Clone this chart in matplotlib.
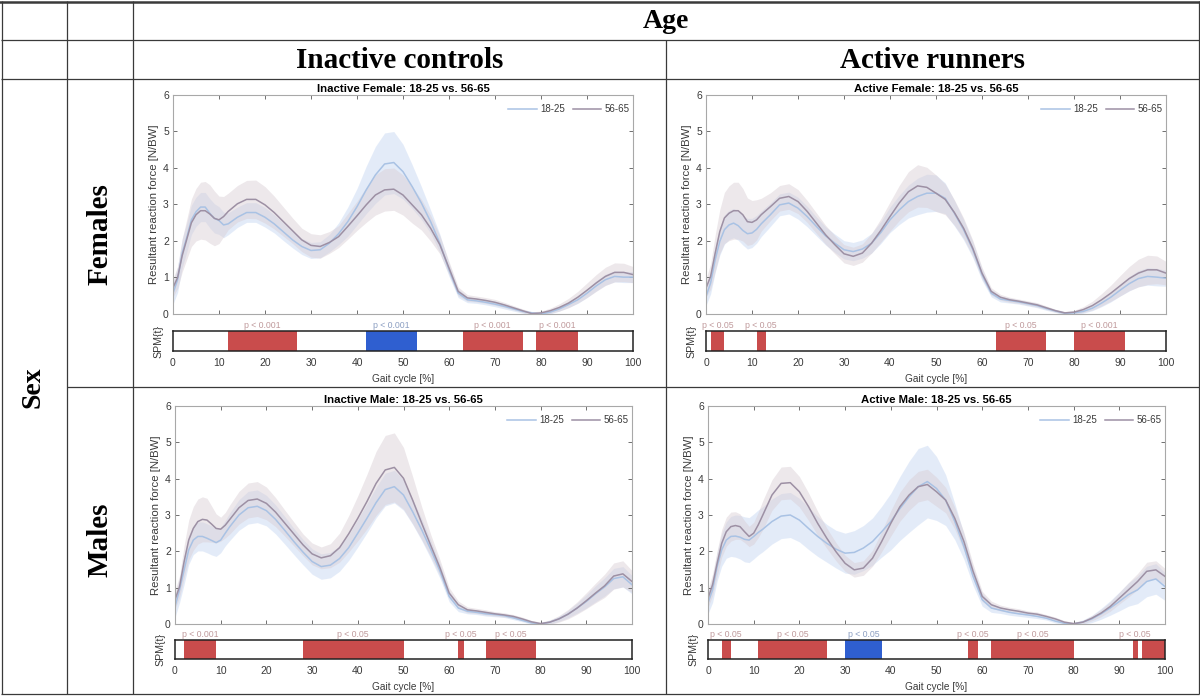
import matplotlib
matplotlib.use("Agg")
import matplotlib.pyplot as plt
import numpy as np

# gait cycle sample points [%]
gait_pct = list(range(0, 13)) + list(range(14, 101, 2))

# Inactive female
inf_young_mean = [0.57, 0.94, 1.67, 2.1, 2.58, 2.8, 2.93, 2.93, 2.76, 2.62, 2.56, 2.44, 2.47, 2.65, 2.78, 2.78, 2.65, 2.47, 2.25, 2.03, 1.85, 1.74, 1.76, 1.94, 2.2, 2.53, 2.94, 3.4, 3.81, 4.11, 4.15, 3.9, 3.49, 3.04, 2.53, 1.94, 1.21, 0.57, 0.39, 0.36, 0.32, 0.27, 0.21, 0.14, 0.07, 0.03, 0.0, 0.05, 0.14, 0.26, 0.39, 0.57, 0.77, 0.94, 1.03, 1.01, 1.01]
inf_young_sd = [0.3, 0.35, 0.4, 0.4, 0.4, 0.4, 0.4, 0.4, 0.4, 0.4, 0.38, 0.35, 0.3, 0.28, 0.27, 0.27, 0.27, 0.25, 0.24, 0.22, 0.22, 0.22, 0.22, 0.24, 0.3, 0.4, 0.5, 0.65, 0.78, 0.85, 0.85, 0.75, 0.6, 0.45, 0.32, 0.25, 0.18, 0.12, 0.08, 0.07, 0.07, 0.07, 0.07, 0.06, 0.05, 0.04, 0.04, 0.05, 0.06, 0.08, 0.1, 0.12, 0.14, 0.15, 0.15, 0.15, 0.15]
inf_old_mean = [0.72, 1.0, 1.6, 2.05, 2.5, 2.72, 2.83, 2.83, 2.74, 2.62, 2.58, 2.67, 2.81, 3.02, 3.14, 3.14, 2.99, 2.78, 2.53, 2.28, 2.03, 1.88, 1.85, 1.96, 2.12, 2.4, 2.69, 2.99, 3.26, 3.4, 3.42, 3.26, 2.99, 2.72, 2.35, 1.9, 1.26, 0.62, 0.44, 0.41, 0.37, 0.32, 0.25, 0.17, 0.09, 0.01, 0.03, 0.09, 0.18, 0.3, 0.46, 0.65, 0.85, 1.03, 1.14, 1.14, 1.08]
inf_old_sd = [0.25, 0.3, 0.45, 0.55, 0.65, 0.72, 0.78, 0.8, 0.8, 0.75, 0.65, 0.55, 0.5, 0.5, 0.52, 0.53, 0.5, 0.45, 0.4, 0.35, 0.32, 0.32, 0.32, 0.3, 0.3, 0.35, 0.4, 0.48, 0.55, 0.58, 0.58, 0.55, 0.5, 0.42, 0.35, 0.25, 0.18, 0.12, 0.09, 0.08, 0.08, 0.08, 0.07, 0.06, 0.05, 0.05, 0.05, 0.07, 0.1, 0.13, 0.16, 0.2, 0.23, 0.25, 0.26, 0.25, 0.22]

# Active female
acf_young_mean = [0.48, 0.85, 1.49, 1.99, 2.31, 2.44, 2.49, 2.42, 2.29, 2.2, 2.22, 2.32, 2.47, 2.72, 2.99, 3.04, 2.9, 2.67, 2.4, 2.14, 1.94, 1.76, 1.71, 1.78, 1.94, 2.23, 2.58, 2.85, 3.08, 3.22, 3.31, 3.31, 3.17, 2.76, 2.31, 1.76, 1.08, 0.57, 0.41, 0.37, 0.33, 0.28, 0.23, 0.15, 0.08, 0.02, 0.03, 0.07, 0.16, 0.3, 0.46, 0.65, 0.83, 0.97, 1.03, 1.01, 0.98]
acf_young_sd = [0.25, 0.3, 0.35, 0.38, 0.4, 0.4, 0.4, 0.4, 0.4, 0.42, 0.4, 0.38, 0.35, 0.32, 0.3, 0.3, 0.3, 0.28, 0.26, 0.25, 0.25, 0.25, 0.25, 0.25, 0.27, 0.3, 0.35, 0.4, 0.45, 0.5, 0.52, 0.5, 0.42, 0.35, 0.28, 0.22, 0.16, 0.1, 0.08, 0.07, 0.06, 0.06, 0.06, 0.05, 0.04, 0.04, 0.04, 0.05, 0.07, 0.1, 0.13, 0.16, 0.2, 0.22, 0.24, 0.24, 0.22]
acf_old_mean = [0.71, 1.03, 1.67, 2.26, 2.63, 2.76, 2.83, 2.83, 2.72, 2.53, 2.51, 2.58, 2.72, 2.94, 3.17, 3.22, 3.08, 2.81, 2.49, 2.17, 1.9, 1.65, 1.58, 1.67, 1.94, 2.29, 2.67, 3.04, 3.35, 3.51, 3.47, 3.31, 3.14, 2.78, 2.35, 1.8, 1.12, 0.62, 0.46, 0.39, 0.35, 0.3, 0.25, 0.17, 0.09, 0.03, 0.05, 0.12, 0.23, 0.39, 0.57, 0.77, 0.97, 1.12, 1.21, 1.21, 1.12]
acf_old_sd = [0.25, 0.35, 0.5, 0.6, 0.7, 0.75, 0.78, 0.78, 0.72, 0.65, 0.6, 0.55, 0.45, 0.38, 0.35, 0.35, 0.33, 0.3, 0.28, 0.26, 0.25, 0.25, 0.25, 0.25, 0.27, 0.32, 0.4, 0.48, 0.55, 0.58, 0.55, 0.5, 0.42, 0.35, 0.28, 0.22, 0.16, 0.1, 0.08, 0.07, 0.06, 0.06, 0.06, 0.05, 0.04, 0.04, 0.05, 0.08, 0.12, 0.17, 0.22, 0.28, 0.33, 0.38, 0.4, 0.38, 0.32]

# Inactive male
inm_young_mean = [0.48, 0.94, 1.49, 2.04, 2.31, 2.41, 2.41, 2.36, 2.3, 2.24, 2.31, 2.5, 2.68, 3.0, 3.2, 3.24, 3.12, 2.88, 2.58, 2.27, 1.98, 1.72, 1.58, 1.62, 1.8, 2.1, 2.5, 2.91, 3.34, 3.7, 3.78, 3.55, 3.09, 2.59, 2.04, 1.45, 0.76, 0.44, 0.35, 0.32, 0.28, 0.26, 0.23, 0.17, 0.1, 0.03, 0.0, 0.05, 0.14, 0.27, 0.44, 0.62, 0.83, 1.02, 1.25, 1.3, 1.08]
inm_young_sd = [0.3, 0.35, 0.4, 0.4, 0.4, 0.4, 0.4, 0.4, 0.4, 0.38, 0.35, 0.35, 0.38, 0.42, 0.45, 0.45, 0.42, 0.4, 0.38, 0.36, 0.35, 0.35, 0.35, 0.35, 0.35, 0.35, 0.38, 0.4, 0.42, 0.45, 0.45, 0.42, 0.35, 0.3, 0.25, 0.2, 0.15, 0.1, 0.07, 0.06, 0.06, 0.06, 0.05, 0.05, 0.04, 0.04, 0.04, 0.05, 0.07, 0.1, 0.14, 0.18, 0.22, 0.25, 0.28, 0.28, 0.25]
inm_old_mean = [0.67, 1.03, 1.72, 2.31, 2.63, 2.82, 2.88, 2.86, 2.75, 2.63, 2.61, 2.72, 2.88, 3.2, 3.4, 3.44, 3.32, 3.08, 2.78, 2.48, 2.18, 1.93, 1.82, 1.88, 2.1, 2.48, 2.91, 3.37, 3.87, 4.24, 4.31, 4.01, 3.41, 2.77, 2.15, 1.54, 0.85, 0.53, 0.39, 0.36, 0.32, 0.28, 0.25, 0.21, 0.14, 0.06, 0.01, 0.05, 0.14, 0.27, 0.44, 0.64, 0.85, 1.05, 1.32, 1.38, 1.17]
inm_old_sd = [0.25, 0.3, 0.45, 0.55, 0.6, 0.62, 0.62, 0.6, 0.5, 0.4, 0.33, 0.35, 0.4, 0.45, 0.48, 0.48, 0.45, 0.4, 0.36, 0.33, 0.3, 0.3, 0.3, 0.33, 0.4, 0.5, 0.62, 0.75, 0.88, 0.95, 0.95, 0.85, 0.65, 0.45, 0.3, 0.22, 0.15, 0.1, 0.08, 0.07, 0.07, 0.06, 0.06, 0.05, 0.05, 0.04, 0.04, 0.06, 0.09, 0.13, 0.17, 0.22, 0.27, 0.32, 0.36, 0.36, 0.3]

# Active male
acm_young_mean = [0.58, 0.94, 1.58, 2.04, 2.31, 2.41, 2.42, 2.39, 2.33, 2.31, 2.41, 2.52, 2.61, 2.82, 2.97, 3.0, 2.86, 2.63, 2.41, 2.22, 2.06, 1.95, 1.97, 2.09, 2.27, 2.54, 2.82, 3.18, 3.5, 3.78, 3.92, 3.73, 3.41, 2.82, 2.13, 1.31, 0.67, 0.44, 0.38, 0.32, 0.28, 0.25, 0.21, 0.16, 0.08, 0.02, 0.0, 0.05, 0.14, 0.28, 0.44, 0.62, 0.81, 0.94, 1.17, 1.24, 1.03]
acm_young_sd = [0.3, 0.35, 0.4, 0.45, 0.5, 0.55, 0.58, 0.6, 0.62, 0.62, 0.62, 0.62, 0.62, 0.62, 0.62, 0.62, 0.6, 0.58, 0.55, 0.52, 0.52, 0.55, 0.6, 0.62, 0.65, 0.7, 0.78, 0.88, 0.98, 1.05, 1.0, 0.88, 0.7, 0.5, 0.35, 0.25, 0.18, 0.12, 0.09, 0.08, 0.07, 0.07, 0.06, 0.05, 0.05, 0.04, 0.04, 0.06, 0.1, 0.15, 0.2, 0.26, 0.32, 0.38, 0.42, 0.42, 0.38]
acm_old_mean = [0.71, 1.08, 1.67, 2.22, 2.54, 2.68, 2.71, 2.68, 2.54, 2.41, 2.5, 2.73, 3.0, 3.55, 3.87, 3.89, 3.64, 3.23, 2.77, 2.36, 1.99, 1.67, 1.49, 1.54, 1.81, 2.27, 2.77, 3.23, 3.55, 3.78, 3.84, 3.64, 3.41, 2.91, 2.27, 1.45, 0.76, 0.53, 0.44, 0.39, 0.35, 0.3, 0.27, 0.21, 0.14, 0.05, 0.01, 0.05, 0.16, 0.3, 0.48, 0.71, 0.94, 1.17, 1.45, 1.49, 1.31]
acm_old_sd = [0.25, 0.3, 0.35, 0.38, 0.4, 0.4, 0.38, 0.35, 0.3, 0.28, 0.3, 0.35, 0.4, 0.42, 0.45, 0.45, 0.42, 0.38, 0.33, 0.28, 0.25, 0.22, 0.2, 0.2, 0.22, 0.28, 0.35, 0.4, 0.42, 0.42, 0.42, 0.4, 0.35, 0.3, 0.25, 0.2, 0.14, 0.1, 0.08, 0.07, 0.07, 0.06, 0.06, 0.05, 0.05, 0.04, 0.04, 0.05, 0.07, 0.1, 0.13, 0.16, 0.2, 0.22, 0.25, 0.25, 0.22]

# SPM supra-threshold clusters: (start %, end %, sign) and their labels (centre %, text, sign)
inf_clusters = [(12, 27, 1), (42, 53, -1), (63, 76, 1), (79, 88, 1)]
inf_labels = [(19.5, "p < 0.001", 1), (47.5, "p < 0.001", -1), (69.5, "p < 0.001", 1), (83.5, "p < 0.001", 1)]
acf_clusters = [(1, 4, 1), (11, 13, 1), (63, 74, 1), (80, 91, 1)]
acf_labels = [(2.5, "p < 0.05", 1), (12, "p < 0.05", 1), (68.5, "p < 0.05", 1), (85.5, "p < 0.001", 1)]
inm_clusters = [(2, 9, 1), (28, 50, 1), (62, 63.3, 1), (68, 79, 1)]
inm_labels = [(5.5, "p < 0.001", 1), (39, "p < 0.05", 1), (62.5, "p < 0.05", 1), (73.5, "p < 0.05", 1)]
acm_clusters = [(3, 5, 1), (11, 26, 1), (30, 38, -1), (57, 59, 1), (62, 80, 1), (93, 94, 1), (95, 100, 1)]
acm_labels = [(4, "p < 0.05", 1), (18.5, "p < 0.05", 1), (34, "p < 0.05", -1), (58, "p < 0.05", 1), (71, "p < 0.05", 1), (93.5, "p < 0.05", 1)]

group_names = ["18-25", "56-65"]

W, H = 1200, 696
SANS = ["Liberation Sans", "DejaVu Sans"]
SERIF = ["Liberation Serif", "DejaVu Serif"]

YOUNG_LINE, YOUNG_BAND = "#a9c2e4", "#c9d9f3"
OLD_LINE, OLD_BAND = "#9d90a4", "#d8ccd3"
RED, BLUE = "#c94c4c", "#2f5fd0"
RED_TXT, BLUE_TXT = "#c09a9c", "#8c9fc2"
TXT = "#3a3a3a"


def rect(x0, x1, ytop, ybot):
    return [x0 / W, 1 - ybot / H, (x1 - x0) / W, (ybot - ytop) / H]


panels = [
    ("Inactive Female: 18-25 vs. 56-65", (173, 633, 95, 314, 331, 351),
     (inf_young_mean, inf_young_sd, inf_old_mean, inf_old_sd), inf_clusters, inf_labels),
    ("Active Female: 18-25 vs. 56-65", (706, 1166, 95, 314, 331, 351),
     (acf_young_mean, acf_young_sd, acf_old_mean, acf_old_sd), acf_clusters, acf_labels),
    ("Inactive Male: 18-25 vs. 56-65", (175, 632, 406, 624, 640, 659),
     (inm_young_mean, inm_young_sd, inm_old_mean, inm_old_sd), inm_clusters, inm_labels),
    ("Active Male: 18-25 vs. 56-65", (708, 1165, 406, 624, 640, 659),
     (acm_young_mean, acm_young_sd, acm_old_mean, acm_old_sd), acm_clusters, acm_labels),
]

fig = plt.figure(figsize=(W / 100, H / 100), dpi=100)
fig.patch.set_facecolor("white")

# table grid and header text
bg = fig.add_axes([0, 0, 1, 1], zorder=-1)
bg.set_xlim(0, W)
bg.set_ylim(H, 0)
bg.axis("off")
grid_kw = dict(color="#3a3a3a", linewidth=0.9, solid_capstyle="butt")
bg.plot([0, W], [1.5, 1.5], color="#3a3a3a", linewidth=1.8)
for yy in (40, 79, 694):
    bg.plot([1, W - 1], [yy, yy], **grid_kw)
bg.plot([67, W - 1], [387, 387], **grid_kw)
for xx in (1.5, 67, 133, W - 1.5):
    bg.plot([xx, xx], [1, 694], **grid_kw)
bg.plot([666, 666], [40, 694], **grid_kw)

head_kw = dict(family=SERIF, fontweight="bold", color="black", ha="center", va="center")
bg.text(666, 21, "Age", fontsize=20, **head_kw)
bg.text(400, 60, "Inactive controls", fontsize=21, **head_kw)
bg.text(932, 60, "Active runners", fontsize=21, **head_kw)
bg.text(33, 387, "Sex", fontsize=20, rotation=90, **head_kw)
bg.text(100, 234, "Females", fontsize=21, rotation=90, **head_kw)
bg.text(100, 540, "Males", fontsize=21, rotation=90, **head_kw)

x = np.array(gait_pct, dtype=float)

for title, (x0, x1, yt, yb, st, sb), series, clusters, labels in panels:
    ym, ys, om, osd = (np.array(s, dtype=float) for s in series)

    ax = fig.add_axes(rect(x0, x1, yt, yb))
    ax.fill_between(x, ym - ys, ym + ys, color=YOUNG_BAND, alpha=0.5, linewidth=0)
    ax.fill_between(x, om - osd, om + osd, color=OLD_BAND, alpha=0.45, linewidth=0)
    ax.plot(x, ym, color=YOUNG_LINE, linewidth=1.1, label=group_names[0])
    ax.plot(x, om, color=OLD_LINE, linewidth=1.1, label=group_names[1])
    ax.set_xlim(0, 100)
    ax.set_ylim(0, 6)
    ax.set_xticks(np.arange(0, 101, 10))
    ax.set_yticks(np.arange(0, 7, 1))
    ax.tick_params(direction="in", length=3, width=0.7, color="#707070", labelsize=7.5,
                   labelcolor=TXT, top=True, right=True, labelbottom=False, pad=3)
    for sp in ax.spines.values():
        sp.set_color("#a8a8a8")
        sp.set_linewidth(0.8)
    ax.set_title(title, fontsize=8.2, fontweight="bold", family=SANS, pad=2)
    ax.set_ylabel("Resultant reaction force [N/BW]", fontsize=8.2, color=TXT, family=SANS, labelpad=3)
    leg = ax.legend(loc="upper right", bbox_to_anchor=(1.0, 0.975), ncol=2, frameon=False,
                    fontsize=7, handlelength=2.9, columnspacing=0.8, handletextpad=0.35,
                    borderaxespad=0.2, borderpad=0.2)
    for t in leg.get_texts():
        t.set_color(TXT)
        t.set_family(SANS)

    spm = fig.add_axes(rect(x0, x1, st, sb))
    for a, b, sign in clusters:
        spm.axvspan(a, b, color=RED if sign > 0 else BLUE, linewidth=0)
    for cx, text, sign in labels:
        spm.text(cx, 1.06, text, ha="center", va="bottom", fontsize=6.3, family=SANS,
                 color=RED_TXT if sign > 0 else BLUE_TXT, transform=spm.get_xaxis_transform())
    spm.set_xlim(0, 100)
    spm.set_ylim(0, 1)
    spm.set_yticks([])
    spm.set_xticks(np.arange(0, 101, 10))
    spm.tick_params(axis="x", direction="in", length=0, labelsize=7.5, labelcolor=TXT, pad=5)
    for sp in spm.spines.values():
        sp.set_color("#222222")
        sp.set_linewidth(1.1)
    spm.set_ylabel("SPM{t}", fontsize=7.7, color=TXT, family=SANS, labelpad=7)
    spm.set_xlabel("Gait cycle [%]", fontsize=7.3, color=TXT, family=SANS, labelpad=4)
    for lab in ax.get_yticklabels() + spm.get_xticklabels():
        lab.set_family(SANS)

fig.savefig("out.png", dpi=100)
